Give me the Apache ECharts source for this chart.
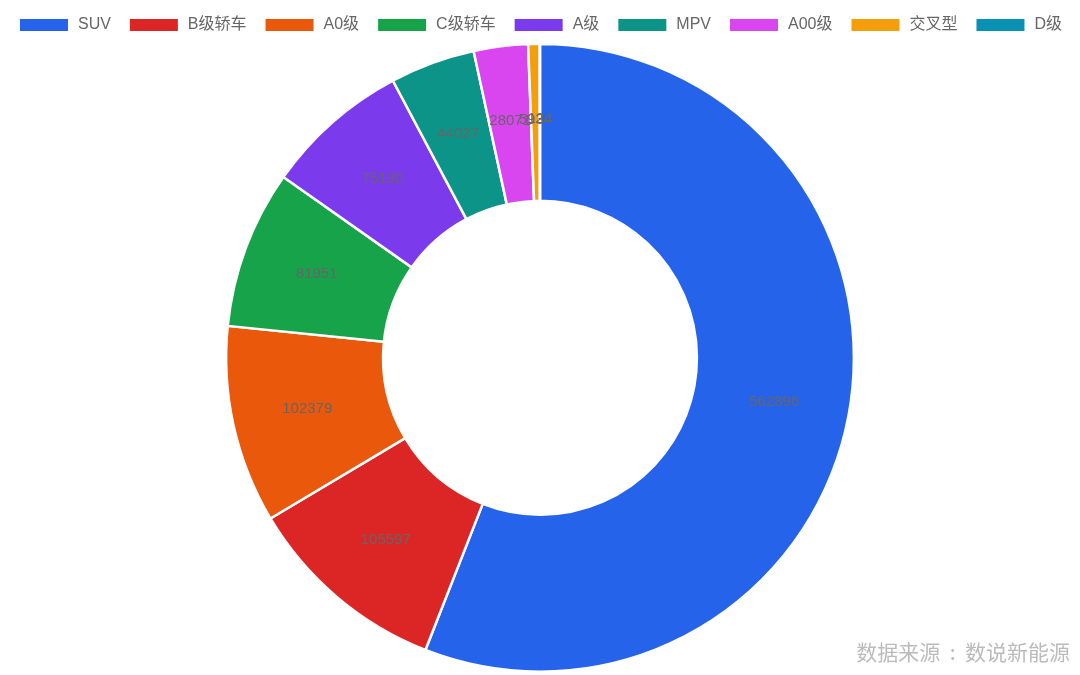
<!DOCTYPE html>
<html><head><meta charset="utf-8">
<script src="https://cdn.jsdelivr.net/npm/echarts@6/dist/echarts.min.js"></script>
<style>html,body{margin:0;padding:0;background:#fff}#c{width:1080px;height:675px}</style>
</head><body><div id="c"></div>
<script>
const categories = ['SUV','B级轿车','A0级','C级轿车','A级','MPV','A00级','交叉型','D级'];
const values = [562896,105597,102379,81951,75130,44027,28071,5934,124];
const colors = ['#2563EB','#DC2626','#EA580C','#16A34A','#7C3AED','#0D9488','#D946EF','#F59E0B','#0891B2'];
const chart = echarts.init(document.getElementById('c'));
chart.setOption({
  color: colors,
  animation: false,
  legend: {
    top: 12, left: 'center', itemWidth: 50, itemHeight: 14, itemGap: 17, icon: 'rect',
    textStyle: {color: '#666', fontSize: 16, padding: [0, 0, 0, 4], fontFamily: 'Liberation Sans, Noto Sans CJK SC, sans-serif'},
    data: categories
  },
  graphic: [{
    type: 'text', right: 10, bottom: 12,
    style: {text: '数据来源  :  数说新能源', fill: '#bbb', font: '21px "Noto Sans CJK SC", sans-serif'}
  }],
  series: [{
    type: 'pie',
    center: ['50%', '53%'],
    radius: ['46.5%', '93%'],
    startAngle: 90,
    avoidLabelOverlap: false,
    itemStyle: {borderColor: '#fff', borderWidth: 2.5},
    label: {show: true, position: 'inside', color: '#666', fontSize: 15, fontFamily: 'Liberation Sans, sans-serif', formatter: '{c}'},
    labelLayout: {hideOverlap: false},
    labelLine: {show: false},
    data: categories.map((n, i) => ({name: n, value: values[i]}))
  }]
});
</script></body></html>
